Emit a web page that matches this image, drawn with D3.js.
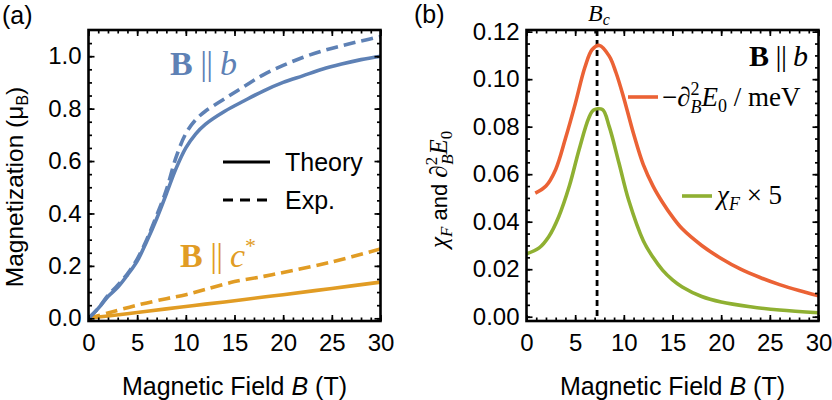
<!DOCTYPE html>
<html>
<head>
<meta charset="utf-8">
<script src="https://cdn.jsdelivr.net/npm/d3@7"></script>
<style>
  body { margin: 0; background: #fff; }
</style>
</head>
<body>
<script>
'use strict';

// ---- data ----
// panel (a) : magnetization, B || b
var fieldB = [0, 1, 2, 3, 4, 5, 6, 7, 8, 9, 10, 11, 12, 14, 16, 18, 20, 22, 24, 26, 28, 30];
var magBTheory = [0, 0.038, 0.083, 0.118, 0.165, 0.218, 0.295, 0.38, 0.475, 0.572, 0.65, 0.703, 0.74, 0.79, 0.83, 0.868, 0.9, 0.925, 0.95, 0.97, 0.987, 1.0];
var magBExp = [0, 0.038, 0.087, 0.126, 0.17, 0.226, 0.302, 0.392, 0.49, 0.615, 0.705, 0.757, 0.79, 0.838, 0.885, 0.93, 0.965, 0.995, 1.02, 1.04, 1.058, 1.075];
// panel (a) : magnetization, B || c*
var fieldC = [0, 2, 5, 8, 10, 12, 15, 18, 20, 25, 30];
var magCTheory = [0, 0.009, 0.022, 0.036, 0.045, 0.054, 0.067, 0.081, 0.09, 0.114, 0.138];
var magCExp = [0, 0.02, 0.05, 0.075, 0.09, 0.11, 0.14, 0.16, 0.175, 0.215, 0.265];

// panel (b) : -d2E0/dB2 and fidelity susceptibility x5
var fieldE = [0.9, 2, 3, 4, 5, 6, 6.75, 7.5, 8.5, 9.2, 10, 11, 12, 13, 14, 15, 16, 18, 20, 22, 24, 26, 28, 30];
var curvE = [0.052, 0.055, 0.062, 0.075, 0.0895, 0.105, 0.1125, 0.1142, 0.1097, 0.1027, 0.092, 0.077, 0.064, 0.055, 0.048, 0.042, 0.037, 0.030, 0.0245, 0.020, 0.0165, 0.0135, 0.011, 0.0088];
var fieldChi = [0, 1.3, 2.3, 3.3, 4.4, 5.4, 6.4, 6.9, 7.8, 8.5, 9.5, 10.5, 12, 13, 14, 15, 16, 18, 20, 23, 26, 30];
var chiF = [0.0265, 0.029, 0.0338, 0.042, 0.055, 0.0703, 0.0837, 0.087, 0.0872, 0.080, 0.0647, 0.049, 0.032, 0.025, 0.0195, 0.0155, 0.0125, 0.0085, 0.0062, 0.0042, 0.0028, 0.0017];
var criticalField = 7.25;

// ticks
var xTicks = [0, 5, 10, 15, 20, 25, 30];
var yTicksA = [0, 0.2, 0.4, 0.6, 0.8, 1.0];
var yTicksB = [0, 0.02, 0.04, 0.06, 0.08, 0.10, 0.12];

var BLUE = '#5E81B5', ORANGE = '#E19C24', RED = '#EB6235', GREEN = '#8FB032';
var SANS = 'Liberation Sans, Arial, sans-serif';
var SERIF = 'Liberation Serif, DejaVu Serif, serif';

var svg = d3.select('body').append('svg')
  .attr('width', 832)
  .attr('height', 400);

////////////////////////////////////////////////////////////////////////////////////
// frame with inward ticks on all four sides (mathematica style)
function drawFrame(g, x, y, yMajor, yMinor, yFmt) {
  var x0 = x.range()[0], x1 = x.range()[1];
  var y0 = y.range()[0], y1 = y.range()[1];
  var w = x1 - x0, h = y0 - y1;
  var xMinor = d3.range(0, 31, 1);

  g.append('g').attr('transform', 'translate(0,' + y0 + ')')
    .call(d3.axisBottom(x).tickValues(xTicks).tickSizeInner(-6).tickSizeOuter(0).tickPadding(13).tickFormat(d3.format('d')));
  g.append('g').attr('transform', 'translate(' + x0 + ',0)')
    .call(d3.axisLeft(y).tickValues(yMajor).tickSizeInner(-6).tickSizeOuter(0).tickPadding(7).tickFormat(d3.format(yFmt)));
  g.append('g').attr('transform', 'translate(0,' + y1 + ')')
    .call(d3.axisTop(x).tickValues(xTicks).tickSizeInner(-6).tickSizeOuter(0).tickFormat(''));
  g.append('g').attr('transform', 'translate(' + x1 + ',0)')
    .call(d3.axisRight(y).tickValues(yMajor).tickSizeInner(-6).tickSizeOuter(0).tickFormat(''));

  // minor ticks
  g.append('g').attr('transform', 'translate(0,' + y0 + ')')
    .call(d3.axisBottom(x).tickValues(xMinor).tickSize(-3.5).tickFormat(''));
  g.append('g').attr('transform', 'translate(0,' + y1 + ')')
    .call(d3.axisTop(x).tickValues(xMinor).tickSize(-3.5).tickFormat(''));
  g.append('g').attr('transform', 'translate(' + x0 + ',0)')
    .call(d3.axisLeft(y).tickValues(yMinor).tickSize(-3.5).tickFormat(''));
  g.append('g').attr('transform', 'translate(' + x1 + ',0)')
    .call(d3.axisRight(y).tickValues(yMinor).tickSize(-3.5).tickFormat(''));

  g.selectAll('.domain').remove();
  g.selectAll('.tick line').attr('stroke', '#000').attr('stroke-width', 1.7);
  g.selectAll('.tick text').attr('font-family', SANS).attr('font-size', 24).attr('fill', '#000');

  g.append('rect')
    .attr('x', x0).attr('y', y1).attr('width', w).attr('height', h)
    .attr('fill', 'none').attr('stroke', '#000').attr('stroke-width', 2.6);
}

function xLabel(g, cx) {
  var t = g.append('text')
    .attr('x', cx).attr('y', 395)
    .attr('text-anchor', 'middle')
    .attr('font-family', SANS).attr('font-size', 25);
  t.append('tspan').text('Magnetic Field ');
  t.append('tspan').attr('font-style', 'italic').text('B');
  t.append('tspan').text(' (T)');
}

function plotLine(g, xs, ys, x, y, color, dash) {
  var pts = xs.map(function (d, i) { return [d, ys[i]]; });
  var line = d3.line()
    .x(function (d) { return x(d[0]); })
    .y(function (d) { return y(d[1]); })
    .curve(d3.curveCatmullRom.alpha(0.5));
  g.append('path')
    .attr('d', line(pts))
    .attr('fill', 'none')
    .attr('stroke', color)
    .attr('stroke-width', 3.6)
    .attr('stroke-dasharray', dash || null)
    .attr('clip-path', 'url(#' + g.attr('data-clip') + ')');
}

// "B || b" style label: bold B, thin double bar, italic letter
function parallelLabel(g, x, y, size, color, letter, anchor) {
  var t = g.append('text').attr('x', x).attr('y', y)
    .attr('text-anchor', anchor || 'start')
    .attr('font-family', SERIF).attr('font-size', size).attr('fill', color);
  t.append('tspan').attr('font-weight', 'bold').text('B');
  t.append('tspan').attr('dx', size * 0.22).attr('letter-spacing', -size * 0.02).text('||');
  t.append('tspan').attr('dx', size * 0.22).attr('font-style', 'italic').text(letter);
  return t;
}

////////////////////////////////////////////////////////////////////////////////////
// panel (a)
var xA = d3.scaleLinear().domain([0, 30]).range([88.5, 380.5]);
var yA = d3.scaleLinear().domain([-0.0103, 1.1]).range([321, 30]);
var gA = svg.append('g').attr('data-clip', 'clipA');
svg.append('clipPath').attr('id', 'clipA').append('rect')
  .attr('x', 88.5).attr('y', 30).attr('width', 292).attr('height', 291);

plotLine(gA, fieldC, magCTheory, xA, yA, ORANGE);
plotLine(gA, fieldC, magCExp, xA, yA, ORANGE, '12,6');
plotLine(gA, fieldB, magBTheory, xA, yA, BLUE);
plotLine(gA, fieldB, magBExp, xA, yA, BLUE, '12,6');

drawFrame(gA, xA, yA, yTicksA, d3.range(0, 1.1, 0.05), '.1f');
xLabel(gA, 234.5);

var ylA = gA.append('text')
  .attr('transform', 'translate(23,187) rotate(-90)')
  .attr('text-anchor', 'middle')
  .attr('font-family', SANS).attr('font-size', 24.5);
ylA.append('tspan').text('Magnetization (\u03bc');
ylA.append('tspan').attr('font-size', 16).attr('dy', 5).text('B');
ylA.append('tspan').attr('dy', -5).text(')');

parallelLabel(gA, 170, 75, 34, BLUE, 'b');
var labC = parallelLabel(gA, 180, 267, 34, ORANGE, 'c');
labC.append('tspan').attr('font-size', 22).attr('dy', -14).text('*');

// legend
gA.append('line').attr('x1', 223).attr('x2', 270).attr('y1', 162).attr('y2', 162)
  .attr('stroke', '#000').attr('stroke-width', 3.2);
gA.append('line').attr('x1', 223).attr('x2', 268).attr('y1', 200).attr('y2', 200)
  .attr('stroke', '#000').attr('stroke-width', 3.2).attr('stroke-dasharray', '10,7');
gA.append('text').attr('x', 285).attr('y', 171)
  .attr('font-family', SANS).attr('font-size', 25).text('Theory');
gA.append('text').attr('x', 285).attr('y', 209)
  .attr('font-family', SANS).attr('font-size', 25).text('Exp.');

gA.append('text').attr('x', 2).attr('y', 24)
  .attr('font-family', SANS).attr('font-size', 25).text('(a)');

////////////////////////////////////////////////////////////////////////////////////
// panel (b)
var xB = d3.scaleLinear().domain([0, 30]).range([526.5, 818.5]);
var yB = d3.scaleLinear().domain([-0.0018, 0.1207]).range([321, 30]);
var gB = svg.append('g').attr('data-clip', 'clipB');
svg.append('clipPath').attr('id', 'clipB').append('rect')
  .attr('x', 526.5).attr('y', 30).attr('width', 292).attr('height', 291);

gB.append('line')
  .attr('x1', xB(criticalField)).attr('x2', xB(criticalField))
  .attr('y1', 30).attr('y2', 321)
  .attr('stroke', '#000').attr('stroke-width', 2.8).attr('stroke-dasharray', '6,4');

plotLine(gB, fieldE, curvE, xB, yB, RED);
plotLine(gB, fieldChi, chiF, xB, yB, GREEN);

drawFrame(gB, xB, yB, yTicksB, d3.range(0, 0.1225, 0.005), '.2f');
xLabel(gB, 672.5);

var ylB = gB.append('text')
  .attr('transform', 'translate(447,173) rotate(-90)')
  .attr('font-family', SERIF).attr('font-size', 25);
ylB.append('tspan').attr('x', -75).attr('font-style', 'italic').text('\u03c7');
ylB.append('tspan').attr('font-style', 'italic').attr('font-size', 17).attr('dy', 5).text('F');
ylB.append('tspan').attr('font-family', SANS).attr('font-size', 22).attr('dy', -5).text(' and ');
ylB.append('tspan').attr('font-style', 'italic').text('\u2202');
ylB.append('tspan').attr('font-size', 17).attr('dy', -10).text('2');
ylB.append('tspan').attr('font-style', 'italic').attr('font-size', 17).attr('dx', -8).attr('dy', 16).text('B');
ylB.append('tspan').attr('font-style', 'italic').attr('dy', -6).text('E');
ylB.append('tspan').attr('font-size', 17).attr('dy', 5).text('0');

// critical field label
var bc = gB.append('text').attr('x', 588).attr('y', 21)
  .attr('font-family', SERIF).attr('font-size', 24);
bc.append('tspan').attr('font-style', 'italic').text('B');
bc.append('tspan').attr('font-style', 'italic').attr('font-size', 16).attr('dy', 4).text('c');

parallelLabel(gB, 808, 66, 30, '#000', 'b', 'end');

// legend
gB.append('line').attr('x1', 628).attr('x2', 658).attr('y1', 97).attr('y2', 97)
  .attr('stroke', RED).attr('stroke-width', 3.6);
var legE = gB.append('text').attr('x', 662).attr('y', 106)
  .attr('font-family', SERIF).attr('font-size', 27);
legE.append('tspan').text('\u2212');
legE.append('tspan').attr('font-style', 'italic').text('\u2202');
legE.append('tspan').attr('font-size', 18).attr('dy', -11).text('2');
legE.append('tspan').attr('font-style', 'italic').attr('font-size', 18).attr('dx', -9).attr('dy', 18).text('B');
legE.append('tspan').attr('font-style', 'italic').attr('dy', -7).text('E');
legE.append('tspan').attr('font-size', 18).attr('dy', 6).text('0');
legE.append('tspan').attr('dy', -6).text(' / meV');

gB.append('line').attr('x1', 682).attr('x2', 712).attr('y1', 196).attr('y2', 196)
  .attr('stroke', GREEN).attr('stroke-width', 3.6);
var legC = gB.append('text').attr('x', 717).attr('y', 204)
  .attr('font-family', SERIF).attr('font-size', 27);
legC.append('tspan').attr('font-style', 'italic').text('\u03c7');
legC.append('tspan').attr('font-style', 'italic').attr('font-size', 18).attr('dy', 6).text('F');
legC.append('tspan').attr('dy', -6).text(' \u00d7 5');

gB.append('text').attr('x', 414).attr('y', 23)
  .attr('font-family', SANS).attr('font-size', 25).text('(b)');
</script>
</body>
</html>
